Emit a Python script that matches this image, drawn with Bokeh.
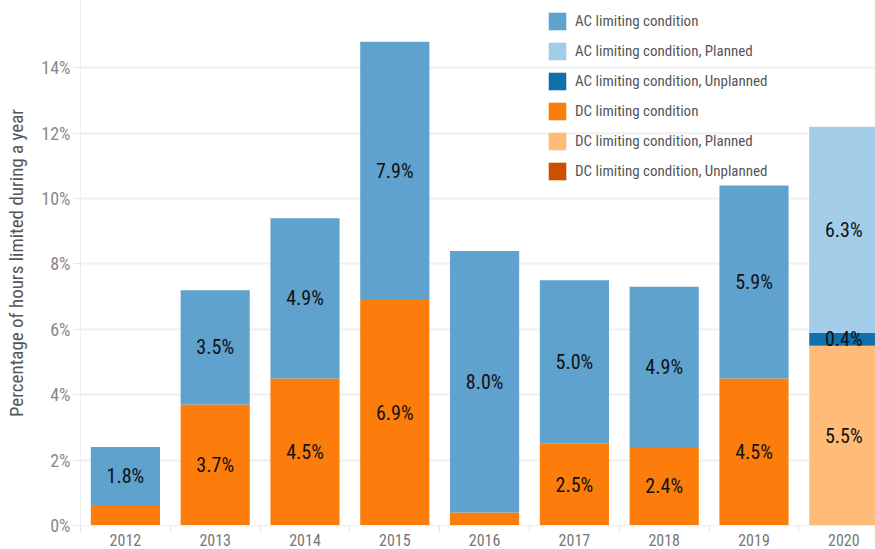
from bokeh.plotting import figure
from bokeh.models import (FixedTicker, PrintfTickFormatter, Legend, LegendItem,
                          ColumnDataSource, Range1d)
from bokeh.core.properties import value
from bokeh.embed import file_html
from bokeh.resources import INLINE

years = ["2012", "2013", "2014", "2015", "2016", "2017", "2018", "2019", "2020"]
dc = [0.6, 3.7, 4.5, 6.9, 0.4, 2.5, 2.4, 4.5, 0.0]
dc_planned = [0, 0, 0, 0, 0, 0, 0, 0, 5.5]
dc_unplanned = [0, 0, 0, 0, 0, 0, 0, 0, 0]
ac_unplanned = [0, 0, 0, 0, 0, 0, 0, 0, 0.4]
ac_planned = [0, 0, 0, 0, 0, 0, 0, 0, 6.3]
ac = [1.8, 3.5, 4.9, 7.9, 8.0, 5.0, 4.9, 5.9, 0.0]
y_ticks = [0, 2, 4, 6, 8, 10, 12, 14]
y_title = "Percentage of hours limited during a year"

series_names = ["DC limiting condition", "DC limiting condition, Planned",
                "DC limiting condition, Unplanned", "AC limiting condition, Unplanned",
                "AC limiting condition, Planned", "AC limiting condition"]
series_values = [dc, dc_planned, dc_unplanned, ac_unplanned, ac_planned, ac]
colors = ["#fc7d0b", "#ffbc79", "#c85200", "#1170aa", "#a3cce9", "#5fa2ce"]
legend_order = ["AC limiting condition", "AC limiting condition, Planned",
                "AC limiting condition, Unplanned", "DC limiting condition",
                "DC limiting condition, Planned", "DC limiting condition, Unplanned"]

FONT = "Liberation Sans Narrow, Arial Narrow, Roboto Condensed, sans-serif"

xs = list(range(len(years)))
data = {"x": xs}
for n, v in zip(series_names, series_values):
    data[n] = v
src = ColumnDataSource(data)

p = figure(width=875, height=549, output_backend="svg", toolbar_location=None,
           x_range=Range1d(-0.5, 8.353), y_range=Range1d(0, 16.06),
           min_border_left=80, min_border_right=0, min_border_top=0, min_border_bottom=24)
p.outline_line_color = None
p.background_fill_color = "white"

renderers = p.vbar_stack(series_names, x="x", width=0.77, source=src,
                         color=colors, line_width=0)

# data labels
lx, ly, lt = [], [], []
for i in xs:
    base = 0.0
    for n, v in zip(series_names, series_values):
        val = v[i]
        if val > 0 and (val >= 1.0 or n == "AC limiting condition, Unplanned"):
            lx.append(i)
            ly.append(base + val / 2)
            lt.append(f"{val:.1f}%")
        base += val
p.text(x=lx, y=ly, text=lt, text_font=value(FONT), text_font_size="20px",
       text_color="#111111", text_align="center", text_baseline="middle")

# legend
rmap = dict(zip(series_names, renderers))
items = [LegendItem(label=n, renderers=[rmap[n]]) for n in legend_order]
legend = Legend(items=items, location=(466, 343), orientation="vertical",
                glyph_width=22, glyph_height=22, label_height=22, spacing=8,
                label_standoff=7, padding=0, margin=0,
                label_text_font=FONT, label_text_font_size="15px",
                label_text_color="#555555",
                background_fill_alpha=0, border_line_alpha=0)
p.add_layout(legend)

# x axis
xa = p.xaxis[0]
xa.ticker = FixedTicker(ticks=xs, minor_ticks=[i - 0.5 for i in xs] + [8.5])
xa.major_label_overrides = {i: y for i, y in enumerate(years)}
xa.major_tick_out = 0
xa.major_tick_in = 0
xa.minor_tick_out = 7
xa.minor_tick_in = 0
xa.minor_tick_line_color = "#e6e6e6"
xa.axis_line_color = "#eeeeee"
xa.major_label_standoff = 1
xa.axis_label_standoff = 0
xa.major_label_text_font = FONT
xa.major_label_text_font_size = "16px"
xa.major_label_text_color = "#777777"

# y axis
ya = p.yaxis[0]
ya.ticker = FixedTicker(ticks=y_ticks)
ya.formatter = PrintfTickFormatter(format="%d%%")
ya.minor_tick_out = 0
ya.minor_tick_in = 0
ya.major_tick_out = 7
ya.major_tick_in = 0
ya.major_tick_line_color = "#e6e6e6"
ya.axis_line_color = "#eeeeee"
ya.major_label_standoff = 3
ya.major_label_text_font = FONT
ya.major_label_text_font_size = "18px"
ya.major_label_text_color = "#888888"
ya.axis_label = y_title
ya.axis_label_text_font = FONT
ya.axis_label_text_font_size = "19px"
ya.axis_label_text_font_style = "normal"
ya.axis_label_text_color = "#555555"
ya.axis_label_standoff = 10

p.xgrid.grid_line_color = None
p.ygrid.grid_line_color = "#efefef"
p.ygrid.grid_line_width = 2

open("out.html", "w").write(file_html(p, INLINE))
